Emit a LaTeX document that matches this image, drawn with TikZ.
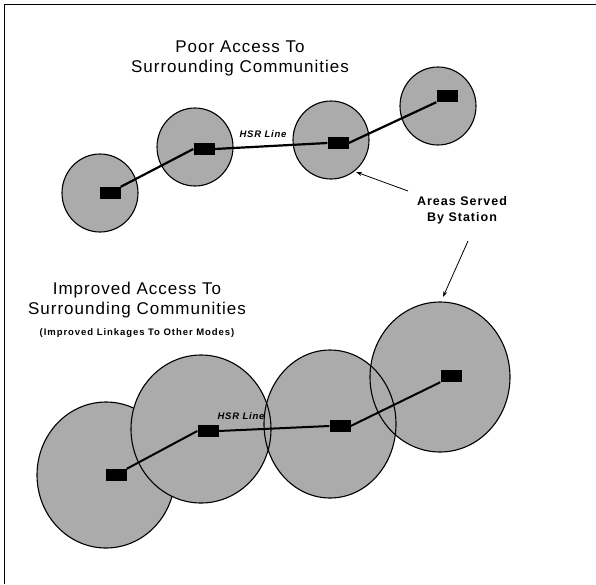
\documentclass[tikz,border=0pt]{standalone}
\usepackage{fontspec}
\setmainfont{Liberation Sans}
\usetikzlibrary{arrows.meta}
\begin{document}
\begin{tikzpicture}[x=1pt,y=-1pt,
  area/.style={fill=black!33},
  rim/.style={draw=black,line width=1.1pt},
  station/.style={fill=black,draw=none,minimum width=21pt,minimum height=12pt,inner sep=0pt},
  hsr/.style={line width=2.2pt,black},
  pointer/.style={line width=0.8pt,-{Stealth[length=6pt,width=4pt]}},
  title/.style={font=\fontsize{17}{19.5}\selectfont\addfontfeature{LetterSpace=6},align=center,inner sep=0pt},
  subtitle/.style={font=\fontsize{9.5}{11}\selectfont\bfseries\addfontfeature{LetterSpace=10},inner sep=0pt},
  callout/.style={font=\fontsize{12.5}{16}\selectfont\bfseries\addfontfeature{LetterSpace=8},align=center,inner sep=0pt},
  linelabel/.style={font=\fontsize{9.5}{11}\selectfont\bfseries\itshape\addfontfeature{LetterSpace=8},inner sep=0pt}
]
\useasboundingbox (0,0) rectangle (596,584);
\fill[white] (0,0) rectangle (596,584);
% frame
\draw[line width=1pt] (4,584) -- (4,4) -- (596,4);

% ---------- top: poor access ----------
\node[title] (t1) at (240,58.5) {Poor Access To\\Surrounding Communities};
\foreach \cx/\cy in {100/193,195/147,331/140,438/106}{
  \fill[area] (\cx,\cy) ellipse [x radius=38, y radius=39];
  \draw[rim] (\cx,\cy) ellipse [x radius=38, y radius=39];
}
\node[station] (s1) at (110,193) {};
\node[station] (s2) at (204,149) {};
\node[station] (s3) at (338,143) {};
\node[station] (s4) at (447,96) {};
\draw[hsr] (s1.north east) -- (s2.west);
\draw[hsr] (s2.east) -- (s3.west);
\draw[hsr] (s3.east) -- (s4.south west);
\node[linelabel] (l1) at (263,134) {HSR Line};

% callout
\node[callout] (c1) at (462,210) {Areas Served\\By Station};
\coordinate (a1s) at (408,191);
\coordinate (a1e) at (356,172);
\coordinate (a2s) at (468,241);
\coordinate (a2e) at (443,297);
\draw[pointer] (a1s) -- (a1e);
\draw[pointer] (a2s) -- (a2e);

% ---------- bottom: improved access ----------
\node[title] (t2) at (137,300) {Improved Access To\\Surrounding Communities};
\node[subtitle] (t3) at (137,333) {(Improved Linkages To Other Modes)};

\fill[area] (106,475) ellipse [x radius=69, y radius=73];
\draw[rim] (106,475) ellipse [x radius=69, y radius=73];
\fill[area] (201,429) ellipse [x radius=70, y radius=74];
\fill[area] (330,424) ellipse [x radius=66, y radius=74];
\fill[area] (440,377) ellipse [x radius=70, y radius=75];
\draw[rim] (201,429) ellipse [x radius=70, y radius=74];
\draw[rim] (330,424) ellipse [x radius=66, y radius=74];
\draw[rim] (440,377) ellipse [x radius=70, y radius=75];

\node[station] (b1) at (116,475) {};
\node[station] (b2) at (208,431) {};
\node[station] (b3) at (340,426) {};
\node[station] (b4) at (451,376) {};
\draw[hsr,line width=2pt] (b1.north east) -- (b2.west);
\draw[hsr,line width=2pt] (b2.east) -- (b3.west);
\draw[hsr,line width=2pt] (b3.east) -- (b4.south west);
\node[linelabel] (l2) at (241,416) {HSR Line};
\end{tikzpicture}
\end{document}
